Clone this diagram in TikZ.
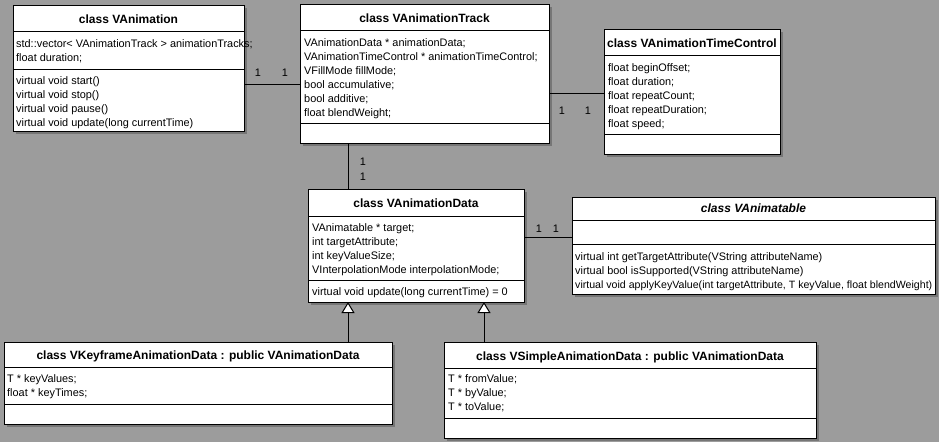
\documentclass[tikz,border=0pt]{standalone}
\usepackage{fontspec}
\setmainfont{Liberation Sans}
\usetikzlibrary{arrows.meta,shadows}
\definecolor{bg}{RGB}{156,156,156}
\definecolor{shade}{RGB}{118,118,118}
\tikzset{
  umlbox/.style={draw=black, line width=1pt, fill=white, inner sep=0pt, outer sep=0pt, anchor=north west,
    drop shadow={shadow xshift=3pt, shadow yshift=-3pt, fill=shade, opacity=1}},
  ctitle/.style={font=\fontsize{12}{14}\selectfont\bfseries, anchor=base, inner sep=0pt},
  member/.style={font=\fontsize{10.9}{14}\selectfont, anchor=base west, inner sep=0pt},
  mult/.style={font=\fontsize{10.9}{14}\selectfont, anchor=base, inner sep=0pt},
  sepline/.style={line width=1pt},
  conn/.style={line width=1pt},
  inherit/.style={line width=1pt, -{Triangle[width=13pt,length=11pt,fill=white,line width=1pt]}},
}
\begin{document}
\begin{tikzpicture}[x=1pt,y=-1pt]
\useasboundingbox (0,0) rectangle (939,442);
\fill[bg] (0,0) rectangle (939,442);

% ---------- boxes ----------
\node[umlbox, minimum width=231pt, minimum height=126pt] (anim) at (13,5) {};
\node[umlbox, minimum width=249pt, minimum height=139pt] (track) at (300,4) {};
\node[umlbox, minimum width=176pt, minimum height=125pt] (tc) at (604,29) {};
\node[umlbox, minimum width=216pt, minimum height=113pt] (data) at (308,189) {};
\node[umlbox, minimum width=363pt, minimum height=97pt] (able) at (572,197) {};
\node[umlbox, minimum width=388pt, minimum height=82pt] (key) at (4,342) {};
\node[umlbox, minimum width=372pt, minimum height=96pt] (simple) at (444,342) {};

% ---------- separators ----------
\draw[sepline] (anim.west |- 0,31) -- (anim.east |- 0,31);
\draw[sepline] (anim.west |- 0,69) -- (anim.east |- 0,69);
\draw[sepline] (track.west |- 0,30) -- (track.east |- 0,30);
\draw[sepline] (track.west |- 0,123) -- (track.east |- 0,123);
\draw[sepline] (tc.west |- 0,55) -- (tc.east |- 0,55);
\draw[sepline] (tc.west |- 0,134) -- (tc.east |- 0,134);
\draw[sepline] (data.west |- 0,216) -- (data.east |- 0,216);
\draw[sepline] (data.west |- 0,280) -- (data.east |- 0,280);
\draw[sepline] (able.west |- 0,220) -- (able.east |- 0,220);
\draw[sepline] (able.west |- 0,244) -- (able.east |- 0,244);
\draw[sepline] (key.west |- 0,367) -- (key.east |- 0,367);
\draw[sepline] (key.west |- 0,404) -- (key.east |- 0,404);
\draw[sepline] (simple.west |- 0,368) -- (simple.east |- 0,368);
\draw[sepline] (simple.west |- 0,418) -- (simple.east |- 0,418);

% ---------- titles ----------
\node[ctitle] (animT) at (128.5,23) {class VAnimation};
\node[ctitle] (trackT) at (424.5,22) {class VAnimationTrack};
\node[ctitle] (tcT) at (692,47) {class VAnimationTimeControl};
\node[ctitle] (dataT) at (416,207) {class VAnimationData};
\node[ctitle, font=\fontsize{12}{14}\selectfont\bfseries\itshape] (ableT) at (753.5,212) {class VAnimatable};
\node[ctitle] (keyT) at (198,359) {class VKeyframeAnimationData : public VAnimationData};
\node[ctitle] (simpleT) at (630,360) {class VSimpleAnimationData : public VAnimationData};

% ---------- members ----------
\node[member] (a1) at (16,47) {std::vector< VAnimationTrack > animationTracks;};
\node[member] (a2) at (16,61) {float duration;};
\node[member] (a3) at (16,84) {virtual void start()};
\node[member] (a4) at (16,98) {virtual void stop()};
\node[member] (a5) at (16,112) {virtual void pause()};
\node[member] (a6) at (16,126) {virtual void update(long currentTime)};

\node[member] (t1) at (304,46) {VAnimationData * animationData;};
\node[member] (t2) at (304,60) {VAnimationTimeControl * animationTimeControl;};
\node[member] (t3) at (304,74) {VFillMode fillMode;};
\node[member] (t4) at (304,88) {bool accumulative;};
\node[member] (t5) at (304,102) {bool additive;};
\node[member] (t6) at (304,116) {float blendWeight;};

\node[member] (c1) at (608,71) {float beginOffset;};
\node[member] (c2) at (608,85) {float duration;};
\node[member] (c3) at (608,99) {float repeatCount;};
\node[member] (c4) at (608,113) {float repeatDuration;};
\node[member] (c5) at (608,127) {float speed;};

\node[member] (d1) at (312,231) {VAnimatable * target;};
\node[member] (d2) at (312,245) {int targetAttribute;};
\node[member] (d3) at (312,259) {int keyValueSize;};
\node[member] (d4) at (312,273) {VInterpolationMode interpolationMode;};
\node[member] (d5) at (312,295) {virtual void update(long currentTime) = 0};

\node[member] (v1) at (575,260) {virtual int getTargetAttribute(VString attributeName)};
\node[member] (v2) at (575,274) {virtual bool isSupported(VString attributeName)};
\node[member, font=\fontsize{10.6}{14}\selectfont] (v3) at (575,288) {virtual void applyKeyValue(int targetAttribute, T keyValue, float blendWeight)};

\node[member] (k1) at (7,382) {T * keyValues;};
\node[member] (k2) at (7,396) {float * keyTimes;};

\node[member] (s1) at (448,382) {T * fromValue;};
\node[member] (s2) at (448,396) {T * byValue;};
\node[member] (s3) at (448,410) {T * toValue;};

% ---------- connectors ----------
\draw[conn] (anim.east |- 0,84) -- (track.west |- 0,84);
\draw[conn] (track.east |- 0,93) -- (tc.west |- 0,93);
\draw[conn] (track.south -| 348,0) -- (data.north -| 348,0);
\draw[conn] (data.east |- 0,237) -- (able.west |- 0,237);
\draw[inherit] (key.north -| 348,0) -- (data.south -| 348,0);
\draw[inherit] (simple.north -| 484,0) -- (data.south -| 484,0);

% ---------- multiplicities ----------
\node[mult] (m1) at (258,76) {1};
\node[mult] (m2) at (285,76) {1};
\node[mult] (m3) at (562,114) {1};
\node[mult] (m4) at (588,114) {1};
\node[mult] (m5) at (363,165) {1};
\node[mult] (m6) at (363,180) {1};
\node[mult] (m7) at (539,232) {1};
\node[mult] (m8) at (556,232) {1};
\end{tikzpicture}
\end{document}
